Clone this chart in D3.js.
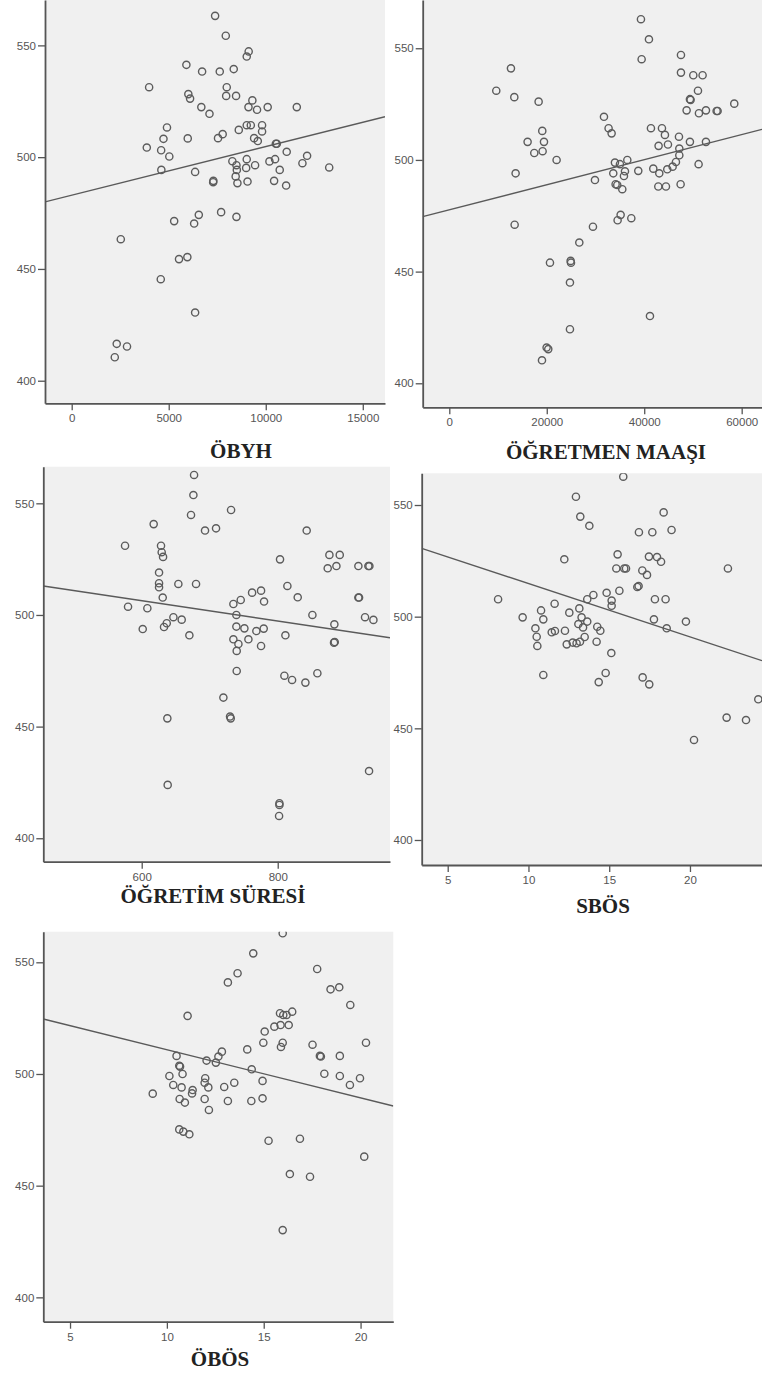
<!DOCTYPE html>
<html><head><meta charset="utf-8">
<script src="https://cdn.jsdelivr.net/npm/d3@7"></script>
<style>
html,body{margin:0;padding:0;background:#fff;}
svg{display:block;}
.title{font-family:"Liberation Serif","Times New Roman",serif;font-weight:bold;font-size:21px;fill:#222;}
</style>
</head><body>
<svg id="chart" width="762" height="1377"></svg>
<script>
// ---------------- DATA ----------------
const titles = ["ÖBYH", "ÖĞRETMEN MAAŞI", "ÖĞRETİM SÜRESİ", "SBÖS", "ÖBÖS"];
const yTicks = [400, 450, 500, 550];
const xTicks1 = [0, 5000, 10000, 15000];
const xTicks2 = [0, 20000, 40000, 60000];
const xTicks3 = [600, 800];
const xTicks4 = [5, 10, 15, 20];
const xTicks5 = [5, 10, 15, 20];

const x1 = [7390,7940,9120,9020,5910,6720,7630,8350,3990,7990,6010,6100,7960,8470,9310,6680,7100,9110,9550,10100,11600,4910,4730,5980,3870,4610,5030,4620,6360,7780,7540,8610,9020,9230,9810,9810,9400,9590,10520,10570,11080,12130,11890,13270,8280,8490,9020,9450,8990,8510,10190,10480,10720,8450,7290,7300,8540,9060,10430,11050,7700,8490,6550,6310,5280,2530,5530,5960,4590,6360,2320,2850,2220];
const y1 = [563.2,554.3,547.3,545.0,541.3,538.3,538.3,539.4,531.3,531.3,528.2,526.2,527.4,527.4,525.4,522.4,519.4,522.4,521.2,522.4,522.4,513.3,508.2,508.4,504.3,503.1,500.3,494.3,493.4,510.3,508.5,512.2,514.3,514.3,514.3,511.5,508.5,507.2,506.0,506.0,502.4,500.6,497.3,495.4,498.2,496.4,499.1,496.4,495.2,494.3,498.1,499.1,494.3,491.4,488.8,489.4,488.4,489.1,489.4,487.3,475.4,473.3,474.2,470.3,471.4,463.3,454.4,455.3,445.4,430.5,416.5,415.3,410.5];

const x2 = [39330,40970,39470,47540,12650,47540,50070,51980,9640,13340,18330,51030,49380,49520,48700,51230,52670,54860,55060,58480,31740,32690,33310,41380,43640,44250,47130,19080,16070,19430,17440,19150,22020,13610,42950,44870,49380,52670,47200,47200,46510,45830,44730,41860,43090,51160,38780,36530,33990,35020,33650,36050,35840,34130,34470,35500,29890,42890,44460,47470,35160,34540,37350,29480,13410,26680,20660,24900,24970,24760,41180,24760,19970,20310,19020];
const y2 = [563.0,554.0,545.1,547.0,541.0,539.1,537.9,537.9,531.0,528.1,526.1,531.0,527.2,526.9,522.2,520.9,522.2,521.9,521.9,525.2,519.3,514.2,511.9,514.2,514.2,511.2,510.4,513.0,508.1,508.1,503.1,503.9,500.0,494.0,506.3,506.9,508.1,508.1,505.1,502.1,499.1,497.0,495.8,496.1,494.0,498.1,495.1,500.0,498.8,498.1,494.0,494.9,492.8,489.1,488.8,486.9,491.0,488.1,488.1,489.1,475.4,473.0,473.9,470.1,471.0,463.0,454.0,454.8,454.0,445.1,430.1,424.2,416.0,415.3,410.3];

const x3 = [677,676,672.5,731.4,617.6,693.1,709.3,842.6,575.5,628.4,629.4,631.4,803.4,876,891.2,873.5,886.3,918.6,933.3,934.8,625.5,625.5,625.5,653.9,679.9,814.2,630.9,579.9,608.3,601.5,632.8,636.8,646.6,658.8,670.1,762.3,775.5,779.9,745.6,734.8,829.4,851,883.3,918.6,919.6,928.4,940.7,739.2,739.2,751,768.6,779.4,734.8,742.2,756.9,739.7,775.5,811.3,882.8,883.8,739.7,809.8,821.1,840.7,858.3,720.1,637.7,729.9,730.9,934.3,638.2,802.5,802.5,802];
const y3 = [562.7,553.7,544.8,547.0,540.7,537.8,538.8,537.8,531.0,531.0,528.1,526.0,524.9,526.9,526.9,520.9,521.9,521.9,521.9,521.9,519.0,514.2,512.4,513.9,513.9,513.0,507.8,503.7,503.0,493.7,494.6,496.3,499.0,497.9,490.9,510.0,510.9,506.0,506.7,504.9,507.9,500.0,495.8,507.8,507.8,499.0,497.8,500.0,494.8,494.0,492.8,493.9,489.1,487.0,489.1,483.9,486.1,490.9,487.6,487.9,474.9,472.8,470.9,469.7,473.9,463.0,453.7,454.5,453.7,430.1,423.9,415.7,414.9,410.0];

const x4 = [15.87,12.94,13.21,13.77,18.37,16.84,17.67,18.86,12.22,15.52,17.46,17.96,18.21,15.44,15.93,16.04,17.05,17.34,22.35,16.74,16.82,15.63,14.84,14.02,13.64,15.15,15.15,17.83,18.49,8.12,11.62,10.78,9.64,10.92,12.53,13.15,13.29,13.64,13.09,13.38,14.26,14.45,17.77,19.75,18.56,10.43,10.51,10.55,11.44,11.64,12.26,12.37,12.74,12.98,13.19,13.48,14.22,15.13,10.92,14.78,14.35,17.07,17.48,24.23,22.27,23.47,20.25];
const y4 = [562.7,553.7,544.8,540.7,546.7,537.8,537.8,538.8,525.7,527.9,526.9,526.7,524.6,521.6,521.6,521.6,520.7,518.7,521.6,513.3,513.7,511.6,510.7,509.7,507.8,507.2,504.9,507.8,507.8,507.8,505.8,502.8,499.7,498.8,501.8,503.7,499.7,497.8,496.7,495.2,495.5,493.7,498.8,497.8,494.8,494.8,491.0,486.9,493.0,493.6,493.7,487.6,488.4,488.1,488.8,490.9,488.8,483.7,473.9,474.8,470.7,472.8,469.7,463.0,454.8,453.7,444.8];

const x5 = [15.98,14.46,13.65,13.15,17.76,18.45,18.9,19.47,11.07,15.84,16.01,16.47,16.18,15.55,15.87,16.29,15.05,14.98,15.98,15.89,17.52,20.28,14.15,12.84,12.66,12.53,12.05,10.5,10.64,10.68,10.81,10.13,10.33,10.76,9.27,10.66,10.93,11.33,11.3,11.98,11.95,12.14,11.95,12.17,12.96,13.48,13.15,14.38,14.94,14.36,14.94,17.9,17.95,18.93,18.13,18.93,19.45,19.97,10.64,10.85,11.16,15.25,16.87,20.19,16.35,17.39,15.98];
const y5 = [563.0,554.0,545.1,541.0,547.0,537.9,538.8,530.9,526.0,527.2,526.4,527.9,526.4,521.2,521.9,521.9,519.0,514.0,514.0,512.1,513.1,514.0,511.0,510.0,507.8,505.1,506.0,508.1,503.7,503.3,500.0,499.1,495.1,494.0,491.2,488.8,487.2,492.8,491.3,498.1,496.1,494.0,488.8,483.9,494.2,496.1,487.9,502.1,496.9,487.9,489.1,508.1,507.8,508.1,500.1,499.1,495.1,498.1,475.2,474.2,473.0,470.1,471.0,463.0,455.2,454.0,430.1];

// fit lines: y = intercept + slope * x
const fitIntercept = [483.0, 477.67, 533.72, 538.69, 532.39];
const fitSlope = [0.002175, 0.0005616, -0.04551, -2.387, -2.153];

// ---------------- LAYOUT ----------------
const xsData = [x1, x2, x3, x4, x5];
const ysData = [y1, y2, y3, y4, y5];
const xTickSets = [xTicks1, xTicks2, xTicks3, xTicks4, xTicks5];
const layout = [
  {l:45,    r:385,   t:0,     b:403.3,  xd:[-1376,16145], yd:[389.9,570.3], tx:241, ty:458},
  {l:422.7, r:762,   t:0,     b:407.3,  xd:[-5458,64170], yd:[389.25,571.6], tx:606, ty:459},
  {l:43.3,  r:390,   t:466.7, b:861.7,  xd:[455.3,965.1], yd:[389.5,566.4], tx:213, ty:903},
  {l:421.7, r:762,   t:473.3, b:865,    xd:[3.39,24.46],  yd:[388.8,564.2], tx:603, ty:913},
  {l:43.3,  r:393.3, t:931.7, b:1321.7, xd:[3.62,21.69],  yd:[389.1,563.7], tx:220, ty:1366}
];

const svg = d3.select("#chart");
const defs = svg.append("defs");

layout.forEach((p, i) => {
  const xs = d3.scaleLinear().domain(p.xd).range([p.l, p.r]);
  const ys = d3.scaleLinear().domain(p.yd).range([p.b, p.t]);
  const g = svg.append("g");

  g.append("rect").attr("x", p.l).attr("y", p.t)
    .attr("width", p.r - p.l).attr("height", p.b - p.t)
    .attr("fill", "#f0f0f0");

  defs.append("clipPath").attr("id", "clip" + i)
    .append("rect").attr("x", p.l).attr("y", p.t)
    .attr("width", p.r - p.l).attr("height", p.b - p.t);

  const pg = g.append("g").attr("clip-path", `url(#clip${i})`);

  // fit line
  const xd = xs.domain();
  pg.append("line")
    .attr("x1", xs(xd[0])).attr("y1", ys(fitIntercept[i] + fitSlope[i] * xd[0]))
    .attr("x2", xs(xd[1])).attr("y2", ys(fitIntercept[i] + fitSlope[i] * xd[1]))
    .attr("stroke", "#5a5a5a").attr("stroke-width", 1.4);

  // points
  const pts = xsData[i].map((v, k) => [v, ysData[i][k]]);
  pg.selectAll("circle").data(pts).enter().append("circle")
    .attr("cx", d => xs(d[0])).attr("cy", d => ys(d[1]))
    .attr("r", 3.6).attr("fill", "none")
    .attr("stroke", "#5c5c5c").attr("stroke-width", 1.4);

  // axes
  const ax = g.append("g").attr("transform", `translate(0,${p.b})`)
    .call(d3.axisBottom(xs).tickValues(xTickSets[i]).tickFormat(d3.format("d"))
      .tickSize(7).tickSizeOuter(0).tickPadding(4));
  const ay = g.append("g").attr("transform", `translate(${p.l},0)`)
    .call(d3.axisLeft(ys).tickValues(yTicks).tickFormat(d3.format("d"))
      .tickSize(7).tickSizeOuter(0).tickPadding(2));
  [ax, ay].forEach(a => {
    a.select(".domain").attr("stroke", "#555").attr("stroke-width", 1.8);
    a.selectAll(".tick line").attr("stroke", "#555").attr("stroke-width", 1.3);
    a.selectAll(".tick text")
      .attr("fill", "#555")
      .attr("font-family", "'Liberation Sans', Arial, sans-serif")
      .attr("font-size", 11.5);
  });

  svg.append("text").attr("class", "title")
    .attr("x", p.tx).attr("y", p.ty).attr("text-anchor", "middle")
    .text(titles[i]);
});
</script>
</body></html>
